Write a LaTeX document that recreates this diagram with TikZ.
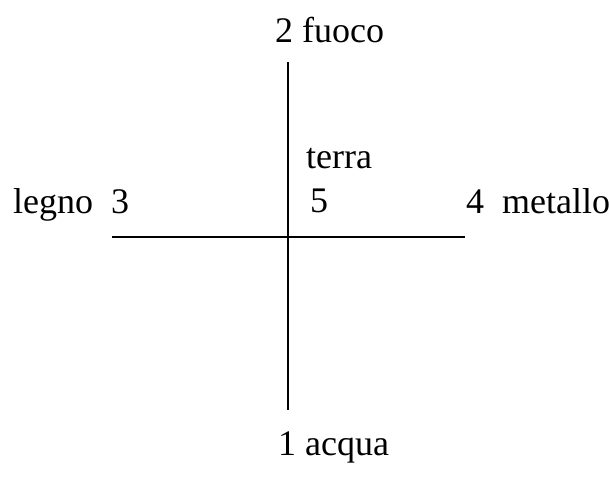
\documentclass[tikz,border=0pt]{standalone}
\usepackage{fontspec}
\setmainfont{Liberation Serif}
\begin{document}
\begin{tikzpicture}[x=1pt,y=-1pt,
  lbl/.style={anchor=base west,inner sep=0pt,font=\fontsize{36}{40}\selectfont},
  axis/.style={line width=1.6pt}]
\useasboundingbox (0,0) rectangle (609,477);
\coordinate (top) at (288,62);
\coordinate (bot) at (288,410);
\coordinate (lft) at (112,237);
\coordinate (rgt) at (465,237);
\draw[axis] (top) -- (bot);
\draw[axis] (lft) -- (rgt);
\node[lbl] (fuoco) at (275,42) {2 fuoco};
\node[lbl] (terra) at (306,168) {terra};
\node[lbl] (cinque) at (310,212) {5};
\node[lbl] (legno) at (13,213) {legno\ \ 3};
\node[lbl] (metallo) at (466,213) {4\ \ metallo};
\node[lbl] (acqua) at (278,455) {1 acqua};
\end{tikzpicture}
\end{document}
